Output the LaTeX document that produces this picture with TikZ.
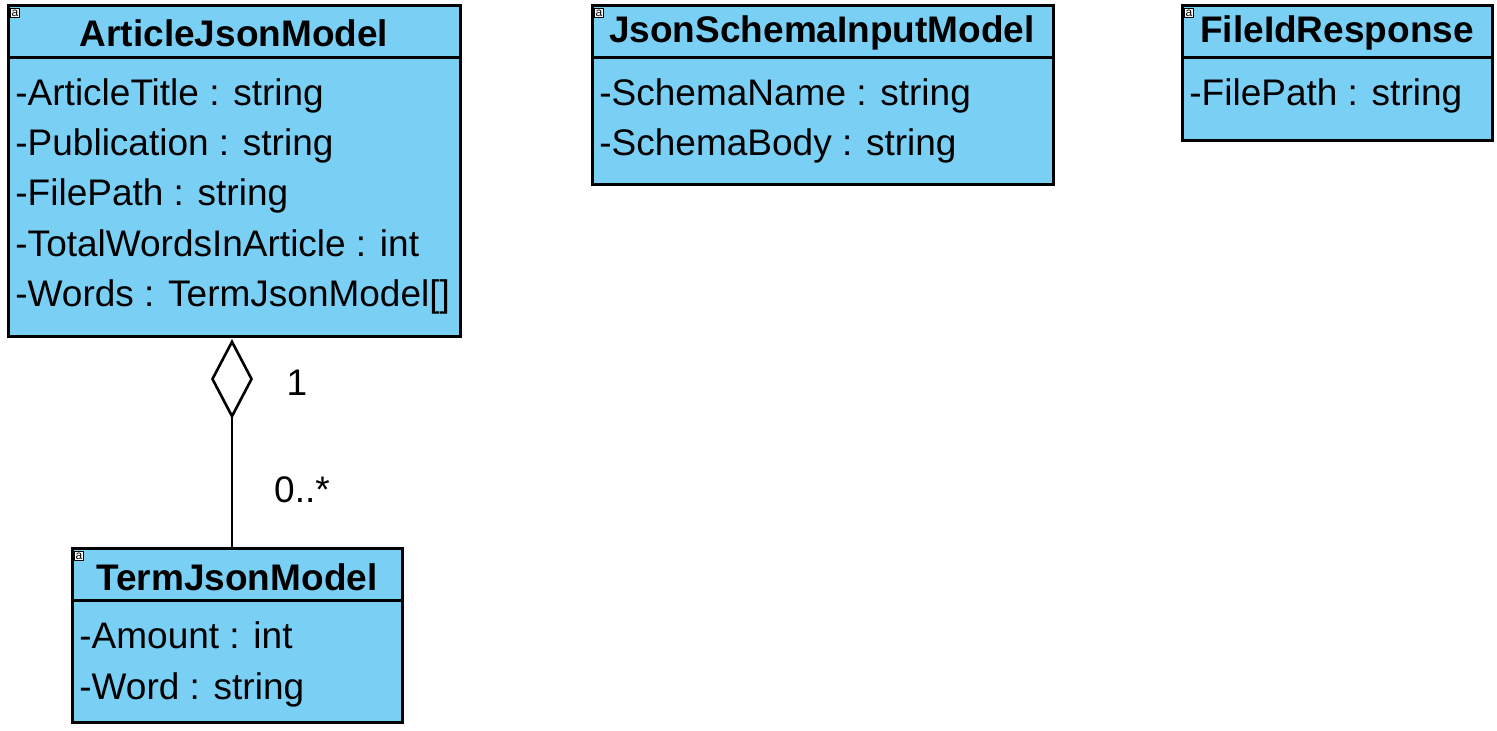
\documentclass[tikz,border=0pt]{standalone}
\usepackage{fontspec}
\setmainfont{Liberation Sans}
\usetikzlibrary{arrows.meta,calc}
\definecolor{classblue}{RGB}{122,207,245}

\begin{document}
\begin{tikzpicture}[x=0.5pt, y=-0.5pt,
    classbox/.style={draw=black, fill=classblue, line width=1.5pt, anchor=north west, inner sep=0pt, outer sep=0pt},
    classname/.style={font=\fontsize{18.5}{22}\selectfont\bfseries},
    attr/.style={anchor=base west, inner sep=0pt, font=\fontsize{18.5}{22}\selectfont},
    mult/.style={font=\fontsize{18.5}{22}\selectfont},
    icon/.style={draw=black, fill=white, line width=0.3pt, inner sep=0.2pt, minimum size=4.6pt, anchor=north west, font=\fontsize{6}{6}\selectfont},
    aggregation/.style={line width=1.3pt, {Diamond[open, length=40pt, width=21pt]}-}]
    \useasboundingbox (0,0) rectangle (1497,730);

    % the classes
    \node[classbox, minimum width=226pt, minimum height=165.5pt] (article) at (8,5) {};
    \node[classbox, minimum width=230.5pt, minimum height=89.5pt] (schema) at (592,5) {};
    \node[classbox, minimum width=155pt, minimum height=67.5pt] (fileid) at (1182,5) {};
    \node[classbox, minimum width=165pt, minimum height=87pt] (term) at (72,548) {};

    % the lines under the class names
    \draw[line width=1.5pt] (article.west |- 0,57) -- (article.east |- 0,57);
    \draw[line width=1.5pt] (schema.west |- 0,57) -- (schema.east |- 0,57);
    \draw[line width=1.5pt] (fileid.west |- 0,57) -- (fileid.east |- 0,57);
    \draw[line width=1.5pt] (term.west |- 0,600) -- (term.east |- 0,600);

    % the small icons in the corners
    \node[icon] (articleicon) at (10,8) {a};
    \node[icon] (schemaicon) at (594,8) {a};
    \node[icon] (fileidicon) at (1184,8) {a};
    \node[icon] (termicon) at (74,551) {a};

    % the class names
    \node[classname] (articlename) at (234,33) {ArticleJsonModel};
    \node[classname] (schemaname) at (822,33) {JsonSchemaInputModel};
    \node[classname] (fileidname) at (1337,33) {FileIdResponse};
    \node[classname] (termname) at (237,577) {TermJsonModel};

    % the attributes
    \node[attr] (a1) at (15,105) {-ArticleTitle : string};
    \node[attr] (a2) at (15,155) {-Publication : string};
    \node[attr] (a3) at (15,205) {-FilePath : string};
    \node[attr] (a4) at (15,256) {-TotalWordsInArticle : int};
    \node[attr] (a5) at (15,306) {-Words : TermJsonModel[]};
    %
    \node[attr] (s1) at (599,105) {-SchemaName : string};
    \node[attr] (s2) at (599,155) {-SchemaBody : string};
    %
    \node[attr] (f1) at (1189,105) {-FilePath : string};
    %
    \node[attr] (t1) at (79,648) {-Amount : int};
    \node[attr] (t2) at (79,699) {-Word : string};

    % the aggregation
    \draw[aggregation, shorten <=1.5pt, shorten >=0.75pt] (article.south -| 232,0) -- (term.north -| 232,0);
    \node[mult] (one) at (297,383) {1};
    \node[mult] (many) at (302,490) {0..*};
\end{tikzpicture}
\end{document}
